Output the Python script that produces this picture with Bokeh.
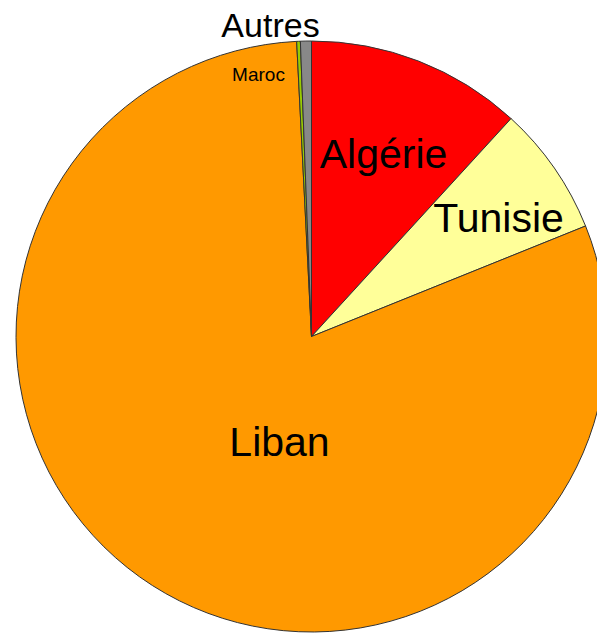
import math
from bokeh.plotting import figure
from bokeh.models import ColumnDataSource, Range1d
from bokeh.core.properties import value
from bokeh.embed import file_html
from bokeh.resources import INLINE

# Data (share in %)
countries = ["Algérie", "Tunisie", "Liban", "Maroc", "Autres"]
shares = [11.8, 7.1, 80.3, 0.2, 0.6]
colors = ["#FF0000", "#FFFF99", "#FF9900", "#99CC00", "#888888"]

W, H = 597, 634
cx, cy = 311, H - 336
R = 295.5

total = sum(shares)
starts, ends = [], []
cum = 0.0
for s in shares:
    a0 = math.pi / 2 - 2 * math.pi * cum / total
    cum += s
    a1 = math.pi / 2 - 2 * math.pi * cum / total
    starts.append(a1)
    ends.append(a0)

src = ColumnDataSource(dict(start=starts, end=ends, color=colors, name=countries))

p = figure(width=W, height=H, output_backend="svg", toolbar_location=None,
           x_range=Range1d(0, W), y_range=Range1d(0, H), min_border=0)
p.axis.visible = False
p.grid.visible = False
p.outline_line_color = None
p.background_fill_color = "white"

p.wedge(x=cx, y=cy, radius=R, start_angle="start", end_angle="end",
        fill_color="color", line_color="#333333", line_width=1, source=src)

# label placement (pixel positions within figure, style)
label_pos = {
    "Algérie": (383, 153, 41),
    "Tunisie": (498, 217, 41),
    "Liban": (279, 441, 41),
    "Maroc": (258, 74, 19),
    "Autres": (270, 24, 34),
}
for name in countries:
    x, y, fs = label_pos[name]
    p.text(x=[x], y=[H - y], text=[name], text_align="center", text_baseline="middle",
           text_font=value("Liberation Sans"), text_font_size=f"{fs}px", text_color="black")

open("out.html", "w").write(file_html(p, INLINE))
